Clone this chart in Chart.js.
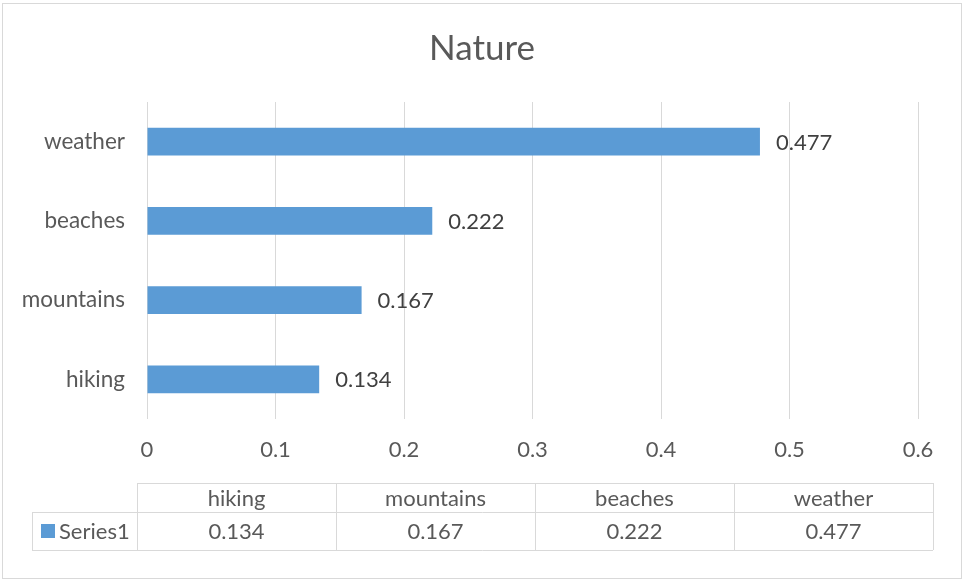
<!DOCTYPE html>
<html>
<head>
<meta charset="utf-8">
<script src="https://cdn.jsdelivr.net/npm/chart.js@4.4.1/dist/chart.umd.min.js"></script>
<style>
  html, body { margin: 0; padding: 0; background: #ffffff; }
  #wrap { width: 964px; height: 580px; position: relative; }
</style>
</head>
<body>
<div id="wrap"><canvas id="chart" width="964" height="580"></canvas></div>
<script>
// Survey topics and their shares
const categories = ['hiking', 'mountains', 'beaches', 'weather'];
const seriesName = 'Series1';
const seriesValues = [0.134, 0.167, 0.222, 0.477];
const xTickLabels = ['0', '0.1', '0.2', '0.3', '0.4', '0.5', '0.6'];
const chartTitle = 'Nature';

const FONT = "Lato, 'Open Sans', 'Liberation Sans', sans-serif";
const BAR_COLOR = '#5b9bd5';
const TEXT_COLOR = '#595959';
const LABEL_COLOR = '#404040';
const LINE_COLOR = '#d9d9d9';

// Outer frame of the chart
const framePlugin = {
  id: 'frame',
  beforeDraw(chart) {
    const ctx = chart.ctx;
    ctx.save();
    ctx.fillStyle = '#ffffff';
    ctx.fillRect(0, 0, chart.width, chart.height);
    ctx.strokeStyle = LINE_COLOR;
    ctx.lineWidth = 1;
    ctx.strokeRect(2.5, 3.5, chart.width - 5, chart.height - 5);
    ctx.restore();
  }
};

// Title centred across the whole canvas
const centredTitlePlugin = {
  id: 'centredTitle',
  afterDraw(chart) {
    const ctx = chart.ctx;
    ctx.save();
    ctx.font = '35px ' + FONT;
    ctx.fillStyle = TEXT_COLOR;
    ctx.textAlign = 'center';
    ctx.textBaseline = 'middle';
    ctx.fillText(chartTitle, chart.width / 2, 49);
    ctx.restore();
  }
};

// Value written just past the end of each bar
const valueLabelPlugin = {
  id: 'valueLabels',
  afterDatasetsDraw(chart) {
    const ctx = chart.ctx;
    const meta = chart.getDatasetMeta(0);
    ctx.save();
    ctx.font = '22px ' + FONT;
    ctx.fillStyle = LABEL_COLOR;
    ctx.textAlign = 'left';
    ctx.textBaseline = 'middle';
    meta.data.forEach((bar, i) => {
      ctx.fillText(String(seriesValues[i]), bar.x + 16, bar.y + 1);
    });
    ctx.restore();
  }
};

// Data table under the axis: category header row and the series row
const dataTablePlugin = {
  id: 'dataTable',
  afterDraw(chart) {
    const ctx = chart.ctx;
    const area = chart.chartArea;
    const left = area.left - 10;
    const right = chart.width - 31;
    const legendLeft = 32;
    const top = area.bottom + 64;
    const mid = top + 29;
    const bottom = mid + 38;
    const colW = (right - left) / categories.length;

    ctx.save();
    ctx.strokeStyle = LINE_COLOR;
    ctx.lineWidth = 1;
    ctx.beginPath();
    ctx.moveTo(left, top + 0.5); ctx.lineTo(right, top + 0.5);
    ctx.moveTo(legendLeft, mid + 0.5); ctx.lineTo(right, mid + 0.5);
    ctx.moveTo(legendLeft, bottom + 0.5); ctx.lineTo(right, bottom + 0.5);
    ctx.moveTo(legendLeft + 0.5, mid); ctx.lineTo(legendLeft + 0.5, bottom);
    for (let i = 0; i <= categories.length; i++) {
      const x = Math.round(left + i * colW) + 0.5;
      ctx.moveTo(x, top); ctx.lineTo(x, bottom);
    }
    ctx.stroke();

    ctx.font = '22px ' + FONT;
    ctx.fillStyle = TEXT_COLOR;
    ctx.textAlign = 'center';
    ctx.textBaseline = 'middle';
    categories.forEach((c, i) => {
      const cx = left + (i + 0.5) * colW;
      ctx.fillText(c, cx, (top + mid) / 2 + 1);
      ctx.fillText(String(seriesValues[i]), cx, (mid + bottom) / 2 + 1);
    });

    // legend key
    ctx.fillStyle = BAR_COLOR;
    ctx.fillRect(legendLeft + 9, mid + 12, 14, 14);
    ctx.fillStyle = TEXT_COLOR;
    ctx.textAlign = 'left';
    ctx.fillText(seriesName, legendLeft + 27, (mid + bottom) / 2 + 1);
    ctx.restore();
  }
};

new Chart(document.getElementById('chart'), {
  type: 'bar',
  data: {
    labels: categories,
    datasets: [{
      label: seriesName,
      data: seriesValues,
      backgroundColor: BAR_COLOR,
      borderWidth: 0,
      barPercentage: 0.353,
      categoryPercentage: 1
    }]
  },
  options: {
    indexAxis: 'y',
    responsive: false,
    animation: false,
    devicePixelRatio: 1,
    layout: { padding: { left: 0, right: 46, top: 102, bottom: 121 } },
    plugins: {
      legend: { display: false },
      tooltip: { enabled: false },
      title: { display: false }
    },
    scales: {
      x: {
        type: 'linear',
        min: 0,
        max: 0.6,
        ticks: {
          stepSize: 0.1,
          color: TEXT_COLOR,
          font: { family: FONT, size: 22 },
          padding: 18,
          callback: (v, i) => xTickLabels[i]
        },
        grid: { color: LINE_COLOR, lineWidth: 1, drawTicks: false },
        border: { display: false },
        afterFit(scale) { scale.height = 40; }
      },
      y: {
        reverse: true,
        ticks: {
          color: TEXT_COLOR,
          font: { family: FONT, size: 22.5 },
          padding: 22
        },
        grid: { display: false, drawTicks: false },
        border: { display: false },
        afterFit(scale) { scale.width = 147; }
      }
    }
  },
  plugins: [framePlugin, centredTitlePlugin, valueLabelPlugin, dataTablePlugin]
});
</script>
</body>
</html>
